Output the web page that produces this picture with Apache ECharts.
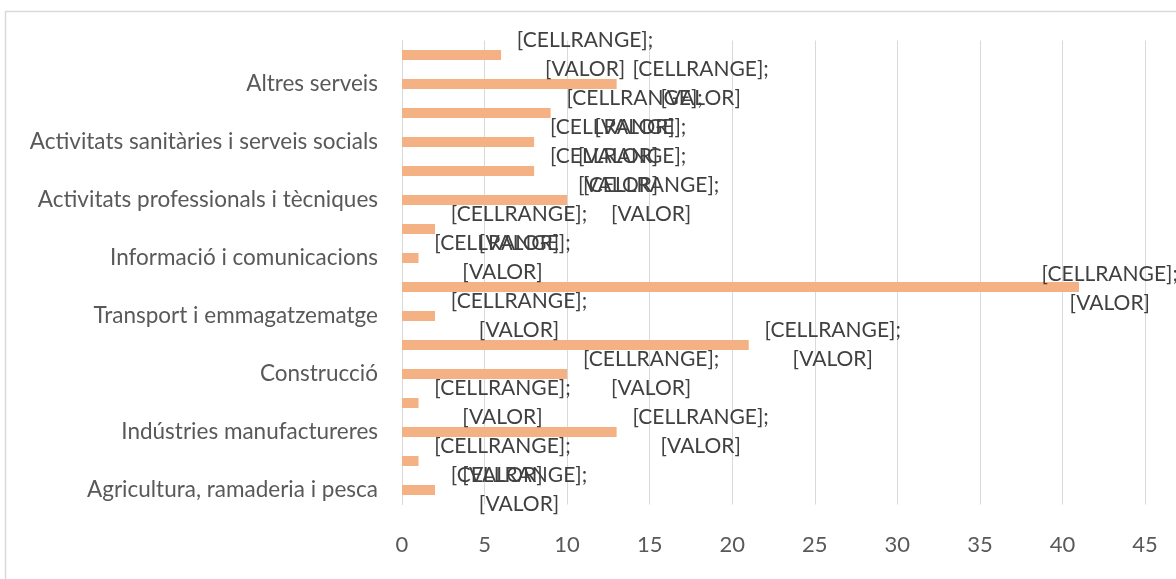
<!DOCTYPE html>
<html>
<head>
<meta charset="utf-8">
<script src="https://cdn.jsdelivr.net/npm/echarts@6/dist/echarts.min.js"></script>
<style>
  html, body { margin: 0; padding: 0; background: #fff; }
  #chart { width: 1176px; height: 579px; }
</style>
</head>
<body>
<div id="chart"></div>
<script>
// categories from bottom to top; the unnamed rows are the ones Excel skipped on the axis
const sectors = [
  "Agricultura, ramaderia i pesca", "",
  "Indústries manufactureres", "",
  "Construcció", "",
  "Transport i emmagatzematge", "",
  "Informació i comunicacions", "",
  "Activitats professionals i tècniques", "",
  "Activitats sanitàries i serveis socials", "",
  "Altres serveis", ""
];
const counts = [2, 1, 13, 1, 10, 21, 2, 41, 1, 2, 10, 8, 8, 9, 13, 6];
const xTicks = { min: 0, max: 45, step: 5 };

const chart = echarts.init(document.getElementById("chart"));

const option = {
  animation: false,
  textStyle: { fontFamily: "Lato" },
  graphic: [
    {
      type: "rect",
      shape: { x: 5.5, y: 11.5, width: 1200, height: 600 },
      style: { fill: "none", stroke: "#d9d9d9", lineWidth: 1.5 },
      silent: true
    }
  ],
  grid: {
    left: 402,
    right: 31,
    top: 40.5,
    bottom: 74.5,
    outerBoundsMode: "none"
  },
  xAxis: {
    type: "value",
    min: xTicks.min,
    max: xTicks.max,
    interval: xTicks.step,
    axisLine: { show: false },
    axisTick: { show: false },
    splitLine: { lineStyle: { color: "#d9d9d9", width: 1 } },
    axisLabel: { color: "#595959", fontSize: 22, margin: 29 }
  },
  yAxis: {
    type: "category",
    data: sectors,
    axisTick: { show: false },
    axisLine: { lineStyle: { color: "#d9d9d9", width: 1 } },
    axisLabel: { interval: 1, color: "#595959", fontSize: 22.5, margin: 24 }
  },
  series: [
    {
      type: "bar",
      data: counts,
      barWidth: 10,
      itemStyle: { color: "#f4b183" },
      label: {
        show: true,
        position: "right",
        distance: 84,
        align: "center",
        formatter: "[CELLRANGE];\n[VALOR]",
        color: "#404040",
        fontSize: 21,
        lineHeight: 29
      },
      // keep labels inside the chart area like Excel does
      labelLayout: function (p) {
        const r = p.labelRect;
        const limit = 1178;
        if (r.x + r.width > limit) {
          return {
            x: limit - r.width / 2,
            y: p.rect.y + p.rect.height / 2 + 2,
            align: "center",
            verticalAlign: "middle"
          };
        }
        return {};
      }
    }
  ]
};

chart.setOption(option);
</script>
</body>
</html>
